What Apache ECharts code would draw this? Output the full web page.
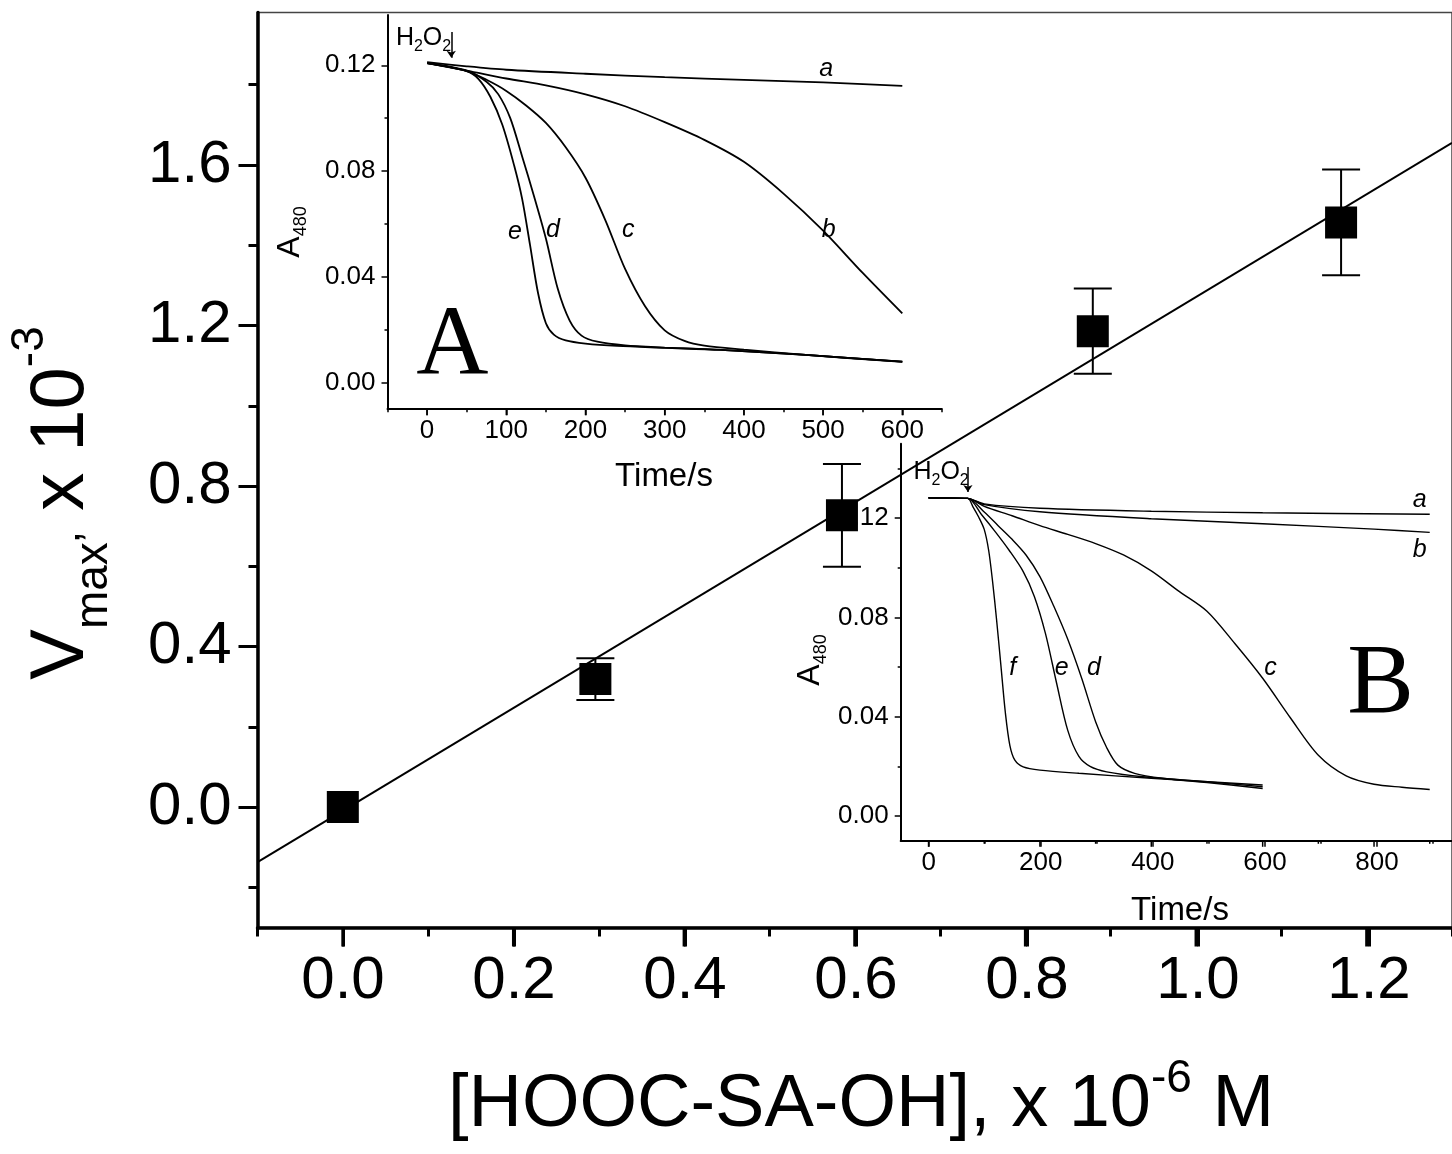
<!DOCTYPE html>
<html>
<head>
<meta charset="utf-8">
<script src="https://cdn.jsdelivr.net/npm/echarts@6/dist/echarts.min.js"></script>
<style>
html, body { margin: 0; padding: 0; background: #fff; }
#chart { width: 1452px; height: 1154px; }
</style>
</head>
<body>
<div id="chart"></div>
<script>
// main plot: Vmax vs concentration
const mainConc = [0, 0.296, 0.585, 0.879, 1.170];
const mainVmax = [0, 0.319, 0.727, 1.186, 1.457];
const mainErr = [0, 0.052, 0.128, 0.106, 0.132];
const fitLine = [[-0.1, -0.137], [1.3, 1.655]];
const mainXTicks = [0, 0.2, 0.4, 0.6, 0.8, 1.0, 1.2];
const mainYTicks = [0, 0.4, 0.8, 1.2, 1.6];
const mainYMinor = [-0.2, 0.2, 0.6, 1.0, 1.4, 1.8];

// inset A: A480 vs time
const curveAa = [[0,0.1212],[50,0.1196],[100,0.1183],[200,0.1168],[300,0.1155],[400,0.1145],[500,0.1135],[600,0.1122]];
const curveAb = [[0,0.1208],[50,0.118],[100,0.115],[150,0.1124],[200,0.109],[250,0.1045],[300,0.0985],[350,0.0918],[400,0.0835],[450,0.0715],[500,0.0575],[550,0.0415],[600,0.0262]];
const curveAc = [[0,0.1208],[50,0.1178],[75,0.1145],[100,0.1103],[125,0.1048],[150,0.0982],[175,0.089],[200,0.0775],[225,0.0615],[250,0.043],[275,0.029],[300,0.0198],[325,0.0158],[350,0.014],[400,0.0125],[478,0.0105],[600,0.0079]];
const curveAd = [[0,0.1208],[50,0.118],[75,0.1138],[90,0.109],[105,0.1],[120,0.0855],[135,0.0705],[150,0.0545],[165,0.0355],[180,0.0235],[195,0.0178],[215,0.0155],[250,0.0141],[300,0.0133],[371,0.0124],[478,0.0105],[600,0.008]];
const curveAe = [[0,0.1208],[50,0.1178],[65,0.1148],[80,0.108],[95,0.0975],[110,0.082],[120,0.0695],[130,0.052],[140,0.034],[150,0.0225],[160,0.0182],[175,0.016],[200,0.0148],[240,0.0139],[300,0.0132],[371,0.0124],[478,0.0105],[600,0.008]];
const lettersA = [[504,0.1185,'a'],[507,0.0577,'b'],[254,0.0577,'c'],[159,0.0577,'d'],[111,0.0571,'e']];
const insetAXTicks = [0, 100, 200, 300, 400, 500, 600];
const insetAYTicks = [0, 0.04, 0.08, 0.12];
const insetAYMinor = [0.02, 0.06, 0.10];

// inset B: A480 vs time
const curveBa = [[0,0.1282],[70,0.128],[100,0.1258],[200,0.124],[400,0.1228],[600,0.1222],[900,0.1216]];
const curveBb = [[0,0.1282],[70,0.128],[100,0.1255],[200,0.1226],[400,0.1198],[600,0.1178],[800,0.1156],[900,0.1143]];
const curveBc = [[0,0.1282],[70,0.128],[100,0.1248],[150,0.121],[200,0.117],[250,0.1135],[300,0.1098],[350,0.1052],[400,0.0988],[450,0.0905],[500,0.0825],[550,0.0695],[600,0.0555],[650,0.0395],[700,0.0245],[750,0.0162],[800,0.0128],[850,0.0116],[900,0.0107]];
const curveBd = [[0,0.1282],[70,0.128],[100,0.1225],[125,0.117],[150,0.1115],[175,0.1052],[200,0.0965],[225,0.0845],[250,0.0712],[275,0.0555],[300,0.038],[320,0.0275],[340,0.0205],[370,0.0172],[420,0.0152],[500,0.0135],[600,0.0111]];
const curveBe = [[0,0.1282],[70,0.128],[95,0.1215],[120,0.1145],[145,0.107],[170,0.0985],[190,0.0885],[210,0.0735],[230,0.0535],[250,0.0345],[270,0.024],[290,0.02],[320,0.0178],[385,0.0158],[500,0.0138],[600,0.0118]];
const curveBf = [[0,0.1282],[70,0.128],[80,0.1245],[90,0.1205],[100,0.1155],[108,0.107],[115,0.0945],[122,0.0795],[130,0.0605],[138,0.0415],[146,0.0285],[155,0.0225],[170,0.0198],[200,0.0185],[270,0.0172],[400,0.0152],[600,0.0125]];
const lettersB = [[882,0.1272,'a'],[882,0.1071,'b'],[614,0.0595,'c'],[297,0.0595,'d'],[239,0.0595,'e'],[151,0.0595,'f']];
const insetBXTicks = [0, 200, 400, 600, 800];
const insetBXMinor = [100, 300, 500, 700, 900];
const insetBYTicks = [0, 0.04, 0.08, 0.12];
const insetBYMinor = [0.02, 0.06, 0.10, 0.14];

// H2O2 markers and panel letters
const h2o2A = { time: 30.5, top: 0.1326, tip: 0.1228, labelAt: [-40, 0.1303] };
const h2o2B = { time: 70.7, top: 0.1407, tip: 0.1306, labelAt: [-28, 0.1387] };
const panelA = [[32, 0.0131, 'A']];
const panelB = [[812, 0.0525, 'B']];

const FONT = "'Liberation Sans', Arial, sans-serif";
const SERIF = "'Liberation Serif', 'Times New Roman', serif";
const black = '#000';

// pixel frames: main plot and the two insets
const MAIN_BOX = { left: 257.5, top: 12.5, width: 1197, height: 915, x0: -0.1, x1: 1.3, y0: -0.3 };
const A_BOX = { left: 387.5, top: 15, width: 554.4, height: 394.2, x0: -50, x1: 650, y0: -0.01 };
const B_BOX = { left: 900.7, top: 443.8, width: 554.7, height: 397, x0: -50, x1: 940, y0: -0.01 };

// a sub-frame of a box covering [from, to] on its x scale
function subGrid(box, from, to) {
  const k = box.width / (box.x1 - box.x0);
  return { left: box.left + (from - box.x0) * k, top: box.top, width: (to - from) * k, height: box.height };
}
// a thin strip just under a box, used to draw tick marks as split lines
function tickStrip(box, from, to, len) {
  const g = subGrid(box, from, to);
  return { left: g.left, top: box.top + box.height, width: g.width, height: len };
}

const grids = [
  { left: MAIN_BOX.left, top: MAIN_BOX.top, width: MAIN_BOX.width, height: MAIN_BOX.height,
    show: true, borderColor: '#444', borderWidth: 1.5, backgroundColor: 'transparent' },
  { left: A_BOX.left, top: A_BOX.top, width: A_BOX.width, height: A_BOX.height },
  { left: B_BOX.left, top: B_BOX.top, width: B_BOX.width, height: B_BOX.height },
  subGrid(MAIN_BOX, 0, 1.2),
  subGrid(A_BOX, 0, 600),
  subGrid(B_BOX, 0, 800),
  tickStrip(MAIN_BOX, 0, 1.2, 19),
  tickStrip(A_BOX, 0, 600, 6),
  tickStrip(B_BOX, 0, 800, 6),
  tickStrip(B_BOX, 100, 900, 3)
];

const hidden = { axisLine: { show: false, onZero: false }, axisTick: { show: false }, axisLabel: { show: false }, splitLine: { show: false } };

function dataX(gridIndex, box, lineW, tickW, interval, minorLen) {
  return {
    gridIndex: gridIndex, type: 'value', position: 'bottom', min: box.x0, max: box.x1, splitLine: { show: false },
    axisLine: { show: true, onZero: false, lineStyle: { color: black, width: lineW } },
    axisTick: interval ? { show: true, length: minorLen, lineStyle: { color: black, width: tickW } } : { show: false },
    interval: interval || undefined,
    axisLabel: { show: false }
  };
}

function labelRowX(gridIndex, min, max, interval, label) {
  return {
    gridIndex: gridIndex, type: 'value', position: 'bottom', min: min, max: max, interval: interval,
    splitLine: { show: false },
    axisLine: { show: false, onZero: false },
    axisTick: { show: false },
    axisLabel: Object.assign({ show: true, color: black, fontFamily: FONT }, label)
  };
}

function stripX(gridIndex, min, max, interval, width) {
  return {
    gridIndex: gridIndex, type: 'value', position: 'bottom', min: min, max: max, interval: interval,
    axisLine: { show: false, onZero: false }, axisTick: { show: false }, axisLabel: { show: false },
    splitLine: { show: true, showMinLine: true, showMaxLine: true, lineStyle: { color: black, width: width } }
  };
}

function valueY(gridIndex, min, max, values, len, o) {
  return {
    gridIndex: gridIndex, type: 'value', position: 'left', offset: 0, min: min, max: max, splitLine: { show: false },
    axisLine: { show: !!o.lineW, onZero: false, lineStyle: { color: black, width: o.lineW || 1 } },
    axisTick: { show: true, customValues: values, length: len, lineStyle: { color: black, width: o.tickW } },
    axisLabel: o.fs ? { show: true, customValues: values, margin: o.margin, color: black, fontFamily: FONT, fontSize: o.fs,
      formatter: v => v.toFixed(o.dec) } : { show: false }
  };
}

const xAxes = [
  dataX(0, MAIN_BOX, 3.5, 3, 0.2, 9),     // minor ticks at -0.1, 0.1, ...
  dataX(1, A_BOX, 2, 1.5, 100, 3),        // minor ticks at -50, 50, ...
  dataX(2, B_BOX, 2, 1.5, 0, 0),
  labelRowX(3, 0, 1.2, 0.2, { fontSize: 60, margin: 24, formatter: v => v.toFixed(1) }),
  labelRowX(4, 0, 600, 100, { fontSize: 26, margin: 9, formatter: v => String(Math.round(v)) }),
  labelRowX(5, 0, 800, 200, { fontSize: 26, margin: 9, formatter: v => String(Math.round(v)) }),
  stripX(6, 0, 1.2, 0.2, 3),
  stripX(7, 0, 600, 100, 1.5),
  stripX(8, 0, 800, 200, 1.5),
  stripX(9, 100, 900, 200, 1.5)
];

const yAxes = [
  valueY(0, MAIN_BOX.y0, 1.98, mainYTicks, 19, { lineW: 3.5, tickW: 3, fs: 60, margin: 26, dec: 1 }),
  valueY(0, MAIN_BOX.y0, 1.98, mainYMinor, 9, { tickW: 3 }),
  valueY(1, A_BOX.y0, 0.139, insetAYTicks, 6, { lineW: 2, tickW: 1.5, fs: 26, margin: 12, dec: 2 }),
  valueY(1, A_BOX.y0, 0.139, insetAYMinor, 3, { tickW: 1.5 }),
  valueY(2, B_BOX.y0, 0.15, insetBYTicks, 6, { lineW: 2, tickW: 1.5, fs: 26, margin: 12, dec: 2 }),
  valueY(2, B_BOX.y0, 0.15, insetBYMinor, 3, { tickW: 1.5 })
];
for (let g = 3; g <= 9; g++) yAxes.push(Object.assign({ gridIndex: g, type: 'value', min: 0, max: 1 }, hidden));

const AX_MAIN = { x: 0, y: 0 }, AX_A = { x: 1, y: 2 }, AX_B = { x: 2, y: 4 };

// downward tick marks on an x axis, placed through the axis scale
function xTickMarks(values, ax, yMin, len, width) {
  return {
    type: 'custom', xAxisIndex: ax.x, yAxisIndex: ax.y, silent: true, z: 5, clip: false,
    data: values.map(v => [v, yMin]),
    encode: { x: 0, y: 1 },
    renderItem: function (params, api) {
      const p = api.coord([api.value(0), api.value(1)]);
      return { type: 'line', shape: { x1: p[0], y1: p[1], x2: p[0], y2: p[1] + len }, style: { stroke: black, lineWidth: width } };
    }
  };
}

function curve(data, ax, width) {
  return {
    type: 'line', xAxisIndex: ax.x, yAxisIndex: ax.y, data: data,
    showSymbol: false, smooth: 0.3, silent: true,
    lineStyle: { color: black, width: width }, z: 3
  };
}

function textMarks(data, ax, label) {
  return {
    type: 'scatter', xAxisIndex: ax.x, yAxisIndex: ax.y, data: data,
    symbolSize: 1, itemStyle: { color: 'rgba(0,0,0,0)', opacity: 1 }, silent: true, z: 4,
    label: Object.assign({ show: true, position: 'inside', color: black, opacity: 1, formatter: p => p.value[2] }, label)
  };
}

function h2o2Marks(m, ax) {
  return [
    {
      type: 'lines', coordinateSystem: 'cartesian2d', xAxisIndex: ax.x, yAxisIndex: ax.y,
      data: [{ coords: [[m.time, m.top], [m.time, m.tip]] }],
      symbol: ['none', 'arrow'], symbolSize: 7, silent: true, z: 4,
      lineStyle: { color: black, width: 1.5, opacity: 1 }
    },
    {
      type: 'scatter', xAxisIndex: ax.x, yAxisIndex: ax.y, data: [m.labelAt],
      symbolSize: 1, itemStyle: { color: 'rgba(0,0,0,0)', opacity: 1 }, silent: true, z: 4,
      label: {
        show: true, position: 'right', distance: 0, color: black, opacity: 1,
        formatter: '{n|H}{s|2}{n|O}{s|2}',
        rich: {
          n: { fontFamily: FONT, fontSize: 25, lineHeight: 34, color: black },
          s: { fontFamily: FONT, fontSize: 16, lineHeight: 14, verticalAlign: 'bottom', color: black }
        }
      }
    }
  ];
}

const a480 = {
  text: '{m|A}{s|480}', align: 'center', verticalAlign: 'middle', fill: black,
  rich: {
    m: { fontFamily: FONT, fontSize: 32, lineHeight: 40, fill: black },
    s: { fontFamily: FONT, fontSize: 18, lineHeight: 18, verticalAlign: 'bottom', fill: black }
  }
};

const chart = echarts.init(document.getElementById('chart'), null, { renderer: 'canvas' });

const option = {
  animation: false,
  backgroundColor: '#fff',
  grid: grids,
  xAxis: xAxes,
  yAxis: yAxes,
  graphic: [
    {
      type: 'text', x: 62, y: 503, rotation: Math.PI / 2, silent: true,
      style: {
        text: '{m|V}{s|max’}{m| x 10}{p|-3}', align: 'center', verticalAlign: 'middle', fill: black,
        rich: {
          m: { fontFamily: FONT, fontSize: 76, lineHeight: 110, fill: black },
          s: { fontFamily: FONT, fontSize: 46, lineHeight: 46, verticalAlign: 'bottom', fill: black },
          p: { fontFamily: FONT, fontSize: 46, lineHeight: 46, verticalAlign: 'top', fill: black }
        }
      }
    },
    {
      type: 'text', x: 861, y: 1106, silent: true,
      style: {
        text: '{m|[HOOC-SA-OH], x 10}{p|-6}{m| M}', align: 'center', verticalAlign: 'middle', fill: black,
        rich: {
          m: { fontFamily: FONT, fontSize: 74, lineHeight: 100, fill: black },
          p: { fontFamily: FONT, fontSize: 46, lineHeight: 46, verticalAlign: 'top', fill: black }
        }
      }
    },
    { type: 'text', x: 290, y: 232, rotation: Math.PI / 2, silent: true, style: a480 },
    { type: 'text', x: 810, y: 660, rotation: Math.PI / 2, silent: true, style: a480 },
    {
      type: 'text', x: 664, y: 477, silent: true,
      style: { text: 'Time/s', align: 'center', verticalAlign: 'middle', fill: black, fontFamily: FONT, fontSize: 33 }
    },
    {
      type: 'text', x: 1180, y: 911, silent: true,
      style: { text: 'Time/s', align: 'center', verticalAlign: 'middle', fill: black, fontFamily: FONT, fontSize: 33 }
    }
  ],
  series: [
    // inset A
    curve(curveAa, AX_A, 1.8), curve(curveAb, AX_A, 1.8), curve(curveAc, AX_A, 1.8),
    curve(curveAd, AX_A, 1.8), curve(curveAe, AX_A, 1.8),
    textMarks(lettersA, AX_A, { fontFamily: FONT, fontSize: 25, fontStyle: 'italic' }),
    textMarks(panelA, AX_A, { fontFamily: SERIF, fontSize: 100 }),
    ...h2o2Marks(h2o2A, AX_A),
    xTickMarks(insetAXTicks, AX_A, A_BOX.y0, 6, 1.5),
    // inset B
    curve(curveBa, AX_B, 1.4), curve(curveBb, AX_B, 1.4), curve(curveBc, AX_B, 1.4),
    curve(curveBd, AX_B, 1.4), curve(curveBe, AX_B, 1.4), curve(curveBf, AX_B, 1.4),
    textMarks(lettersB, AX_B, { fontFamily: FONT, fontSize: 25, fontStyle: 'italic' }),
    textMarks(panelB, AX_B, { fontFamily: SERIF, fontSize: 100 }),
    ...h2o2Marks(h2o2B, AX_B),
    xTickMarks(insetBXTicks, AX_B, B_BOX.y0, 6, 1.5),
    xTickMarks(insetBXMinor, AX_B, B_BOX.y0, 3, 1.5),
    // main plot
    xTickMarks(mainXTicks, AX_MAIN, MAIN_BOX.y0, 19, 3),
    {
      type: 'line', xAxisIndex: 0, yAxisIndex: 0, data: fitLine, showSymbol: false, silent: true,
      lineStyle: { color: black, width: 2 }, z: 10
    },
    {
      type: 'custom', xAxisIndex: 0, yAxisIndex: 0, silent: true, z: 11,
      data: mainConc.map((x, i) => [x, mainVmax[i], mainErr[i]]),
      encode: { x: 0, y: 1 },
      renderItem: function (params, api) {
        const x = api.value(0), y = api.value(1), e = api.value(2);
        if (!e) return null;
        const top = api.coord([x, y + e]);
        const bot = api.coord([x, y - e]);
        const hw = 19;
        const st = { stroke: black, lineWidth: 2 };
        return {
          type: 'group',
          children: [
            { type: 'line', shape: { x1: top[0], y1: top[1], x2: bot[0], y2: bot[1] }, style: st },
            { type: 'line', shape: { x1: top[0] - hw, y1: top[1], x2: top[0] + hw, y2: top[1] }, style: st },
            { type: 'line', shape: { x1: bot[0] - hw, y1: bot[1], x2: bot[0] + hw, y2: bot[1] }, style: st }
          ]
        };
      }
    },
    {
      type: 'scatter', xAxisIndex: 0, yAxisIndex: 0, silent: true, z: 12,
      data: mainConc.map((x, i) => [x, mainVmax[i]]),
      symbol: 'rect', symbolSize: 32, itemStyle: { color: black, opacity: 1 }
    }
  ]
};

chart.setOption(option);
</script>
</body>
</html>
